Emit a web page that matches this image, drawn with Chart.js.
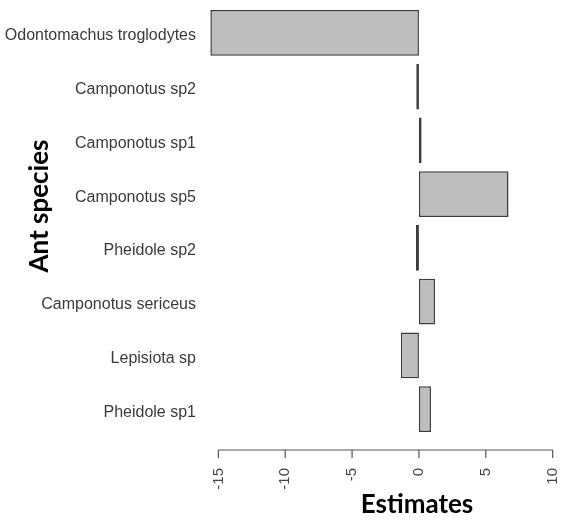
<!DOCTYPE html>
<html>
<head>
<meta charset="utf-8">
<script src="https://cdn.jsdelivr.net/npm/chart.js@4"></script>
<style>
    html, body { margin: 0; padding: 0; background: #fff; }
    #wrap { width: 562px; height: 521px; position: relative; }
</style>
</head>
<body>
<div id="wrap"><canvas id="antChart"></canvas></div>
<script>
const species = [
    "Odontomachus troglodytes",
    "Camponotus sp2",
    "Camponotus sp1",
    "Camponotus sp5",
    "Pheidole sp2",
    "Camponotus sericeus",
    "Lepisiota sp",
    "Pheidole sp1"
];
const estimates = [-15.6, -0.2, 0.2, 6.7, -0.22, 1.2, -1.35, 0.9];
const xTicks = [-15, -10, -5, 0, 5, 10];

//..R style axis line (only between first and last tick) plus axis titles
const rAxisPlugin = {
    id: 'rAxis',
    afterDraw(chart) {
        const ctx = chart.ctx;
        const x = chart.scales.x;
        const area = chart.chartArea;
        const lineY = area.bottom + 14;
        const x0 = x.getPixelForValue(xTicks[0]);
        const x1 = x.getPixelForValue(xTicks[xTicks.length - 1]);

        ctx.save();
        ctx.strokeStyle = '#555';
        ctx.lineWidth = 1.2;
        ctx.beginPath();
        ctx.moveTo(x0, lineY);
        ctx.lineTo(x1, lineY);
        xTicks.forEach(v => {
            const px = x.getPixelForValue(v);
            ctx.moveTo(px, lineY);
            ctx.lineTo(px, lineY + 8);
        });
        ctx.stroke();

        ctx.fillStyle = '#000';
        ctx.font = 'bold 26px Lato';
        ctx.textAlign = 'center';
        ctx.textBaseline = 'middle';
        ctx.fillText('Estimates', 417, 505);

        ctx.translate(40, 206);
        ctx.rotate(-Math.PI / 2);
        ctx.fillText('Ant species', 0, 0);
        ctx.restore();
    }
};

new Chart(document.getElementById('antChart'), {
    type: 'bar',
    data: {
        labels: species,
        datasets: [{
            data: estimates,
            backgroundColor: '#bebebe',
            borderColor: '#3c3c3c',
            borderWidth: 1.5,
            borderSkipped: false,
            barPercentage: 0.85,
            categoryPercentage: 1
        }]
    },
    options: {
        indexAxis: 'y',
        responsive: true,
        maintainAspectRatio: false,
        animation: false,
        layout: {
            padding: { top: 6, right: 4, left: 0, bottom: 0 }
        },
        plugins: {
            legend: { display: false },
            tooltip: { enabled: false }
        },
        scales: {
            x: {
                type: 'linear',
                min: -16,
                max: 10.4,
                grid: { display: false },
                border: { display: false },
                afterBuildTicks(scale) {
                    scale.ticks = xTicks.map(v => ({ value: v }));
                },
                afterFit(scale) {
                    scale.height = 85;
                    scale.paddingLeft = 0;
                    scale.paddingRight = 0;
                },
                ticks: {
                    minRotation: 90,
                    maxRotation: 90,
                    padding: 24,
                    color: '#444',
                    font: { family: 'Liberation Sans', size: 15 }
                }
            },
            y: {
                grid: { display: false },
                border: { display: false },
                afterFit(scale) {
                    scale.width = 205;
                    scale.paddingTop = 0;
                    scale.paddingBottom = 0;
                },
                ticks: {
                    padding: 1,
                    labelOffset: 3,
                    color: '#3a3a3a',
                    font: { family: 'Liberation Sans', size: 16 }
                }
            }
        }
    },
    plugins: [rAxisPlugin]
});
</script>
</body>
</html>
